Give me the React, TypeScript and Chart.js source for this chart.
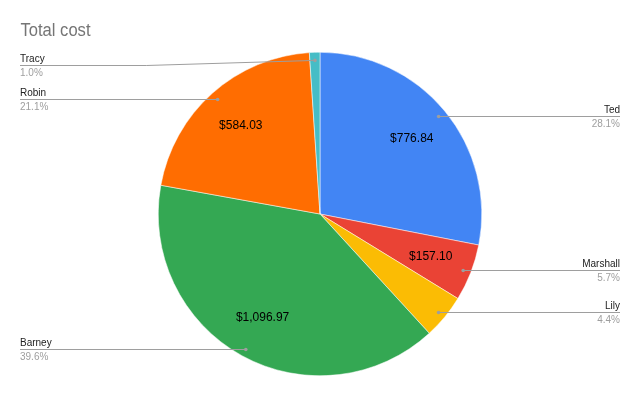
import React, { useEffect, useRef } from "react";
import { Chart, registerables } from "chart.js";

Chart.register(...registerables);

const TITLE = "Total cost";
const NAMES = ["Ted", "Marshall", "Lily", "Barney", "Robin", "Tracy"];
const COSTS = [776.84, 157.1, 122.9, 1096.97, 584.03, 29.0];
const COLORS = ["#4285F4", "#EA4335", "#FBBC04", "#34A853", "#FF6D01", "#46BDC6"];

const FONT = '"Liberation Sans", Arial, sans-serif';

const fmtMoney = (v: number) =>
  "$" + v.toLocaleString("en-US", { minimumFractionDigits: 2, maximumFractionDigits: 2 });

const calloutPlugin = {
  id: "callouts",
  afterDatasetsDraw(chart: any) {
    const ctx: CanvasRenderingContext2D = chart.ctx;
    const meta = chart.getDatasetMeta(0);
    const data = chart.data.datasets[0].data as number[];
    const labels = chart.data.labels as string[];
    const total = data.reduce((a, b) => a + b, 0);
    ctx.save();

    // title (slightly condensed like the reference)
    ctx.font = "18px " + FONT;
    ctx.fillStyle = "#757575";
    ctx.textAlign = "left";
    ctx.textBaseline = "alphabetic";
    const tw = ctx.measureText(TITLE).width;
    ctx.save();
    ctx.translate(20.5, 36);
    ctx.scale(70 / tw, 1);
    ctx.fillText(TITLE, 0, 0);
    ctx.restore();

    meta.data.forEach((arc: any, i: number) => {
      const p = arc.getProps(["x", "y", "startAngle", "endAngle", "outerRadius"], true);
      const mid = (p.startAngle + p.endAngle) / 2;
      const frac = data[i] / total;

      // value label inside the slice
      if (frac >= 0.05) {
        const r = p.outerRadius * 0.735;
        ctx.font = "12px " + FONT;
        ctx.fillStyle = "#000000";
        ctx.textAlign = "center";
        ctx.textBaseline = "middle";
        ctx.fillText(fmtMoney(data[i]), p.x + Math.cos(mid) * r, p.y + Math.sin(mid) * r);
      }

      // callout
      const ar = p.outerRadius * 0.95;
      const ax = p.x + Math.cos(mid) * ar;
      let ay = p.y + Math.sin(mid) * ar;
      const right = Math.cos(mid) >= 0;
      const ly = Math.round(Math.max(ay, 65)) + 0.5;
      const lx = right ? chart.width - 20 : 20;
      const bent = Math.abs(ly - ay) > 1.5;
      if (!bent) ay = ly;

      ctx.strokeStyle = "#9e9e9e";
      ctx.lineWidth = 1;
      ctx.beginPath();
      ctx.moveTo(lx, ly);
      if (bent) {
        const bx = right ? p.x + p.outerRadius + 12 : p.x - p.outerRadius - 12;
        ctx.lineTo(bx, ly);
      }
      ctx.lineTo(ax, ay);
      ctx.stroke();

      ctx.fillStyle = "#9e9e9e";
      ctx.beginPath();
      ctx.arc(ax, ay, 1.8, 0, Math.PI * 2);
      ctx.fill();

      ctx.font = "10px " + FONT;
      ctx.textAlign = right ? "right" : "left";
      ctx.textBaseline = "alphabetic";
      ctx.fillStyle = "#222222";
      ctx.fillText(labels[i], lx, ly - 3.5);
      ctx.fillStyle = "#9e9e9e";
      ctx.fillText((frac * 100).toFixed(1) + "%", lx, ly + 10);
    });
    ctx.restore();
  },
};

export default function App() {
  const ref = useRef<HTMLCanvasElement | null>(null);
  useEffect(() => {
    if (!ref.current) return;
    const chart = new Chart(ref.current, {
      type: "pie",
      data: {
        labels: NAMES,
        datasets: [
          {
            data: COSTS,
            backgroundColor: COLORS,
            borderColor: "#ffffff",
            borderWidth: 0.5,
          },
        ],
      },
      options: {
        responsive: false,
        animation: false,
        layout: { padding: { top: 52, bottom: 20, left: 0, right: 0 } },
        plugins: {
          legend: { display: false },
          tooltip: { enabled: false },
          title: { display: false },
        },
      },
      plugins: [calloutPlugin],
    });
    return () => chart.destroy();
  }, []);
  return (
    <canvas
      ref={ref}
      width={640}
      height={396}
      style={{ position: "fixed", left: 0, top: 0, width: 640, height: 396, background: "#fff" }}
    />
  );
}
